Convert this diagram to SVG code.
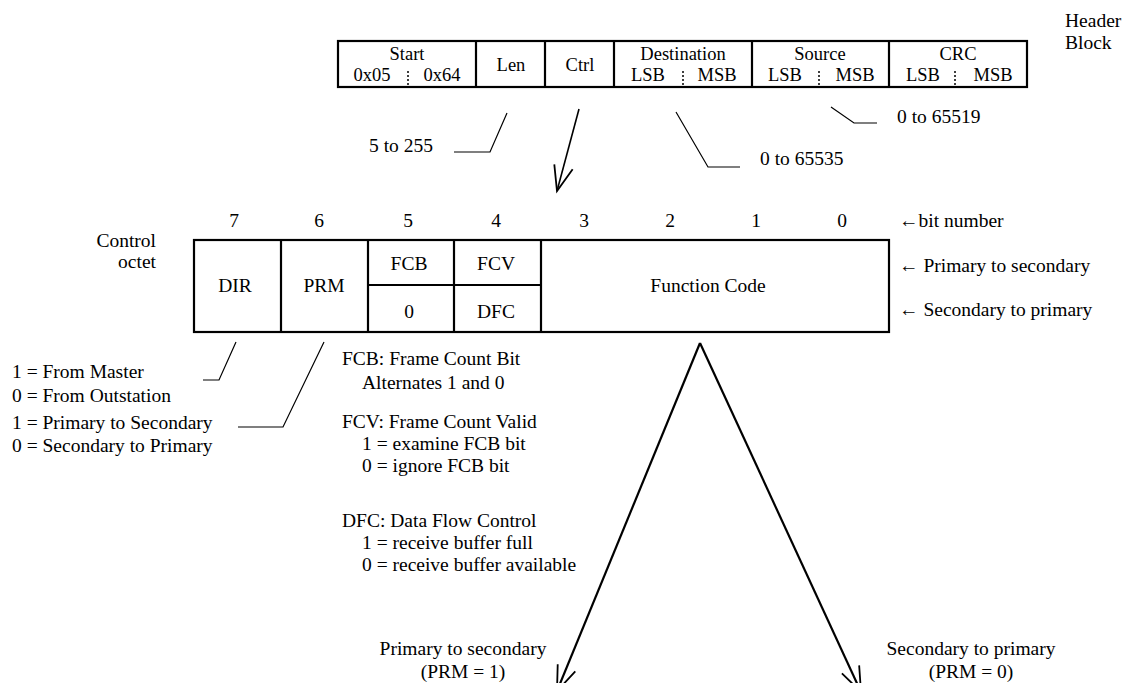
<svg xmlns="http://www.w3.org/2000/svg" width="1130" height="683" viewBox="0 0 1130 683">
<style>
text{font-family:"Liberation Serif","Times New Roman",serif;font-size:19.5px;fill:#000}
.m{text-anchor:middle}
.e{text-anchor:end}
.h{font-size:18.5px}
.box{fill:#fff;stroke:#000;stroke-width:2.2}
.div{stroke:#000;stroke-width:2.2;fill:none}
.dot{stroke:#000;stroke-width:1.5;stroke-dasharray:2 2}
.lead{stroke:#000;stroke-width:1.2;fill:none}
.arr{stroke:#000;stroke-width:1.6;fill:none}
.big{stroke:#000;stroke-width:2.2;fill:none}
</style>
<defs>
<marker id="v" markerUnits="userSpaceOnUse" markerWidth="40" markerHeight="30" refX="0" refY="0" viewBox="-30 -15 40 30" orient="auto" overflow="visible">
<path d="M-25,-9.5 L0,0 L-25,9.5" fill="none" stroke="#000" stroke-width="1.8"/>
</marker>
</defs>

<g id="header-block">
<rect class="box" x="338" y="41" width="689" height="46"/>
<path class="div" d="M476,41V87M545,41V87M614,41V87M752,41V87M889,41V87"/>
<path class="dot" d="M408,71V87M683,71V87M819,71V87M955,71V87"/>
<text class="m h" x="407" y="60">Start</text>
<text class="m h" x="372" y="81">0x05</text>
<text class="m h" x="442" y="81">0x64</text>
<text class="m h" x="511" y="71">Len</text>
<text class="m h" x="580" y="71">Ctrl</text>
<text class="m h" x="683" y="60">Destination</text>
<text class="m h" x="648" y="81">LSB</text>
<text class="m h" x="717" y="81">MSB</text>
<text class="m h" x="820" y="60">Source</text>
<text class="m h" x="785" y="81">LSB</text>
<text class="m h" x="855" y="81">MSB</text>
<text class="m h" x="958" y="60">CRC</text>
<text class="m h" x="923" y="81">LSB</text>
<text class="m h" x="993" y="81">MSB</text>
</g>

<g id="header-label">
<text x="1065" y="27">Header</text>
<text x="1065" y="49">Block</text>
</g>

<g id="header-notes">
<text x="369" y="152">5 to 255</text>
<text x="760" y="165">0 to 65535</text>
<text x="897" y="123">0 to 65519</text>
</g>

<g id="control-octet">
<text class="e" x="156" y="247">Control</text>
<text class="e" x="156" y="268">octet</text>
<text class="m" x="234" y="227">7</text>
<text class="m" x="319" y="227">6</text>
<text class="m" x="408" y="227">5</text>
<text class="m" x="496" y="227">4</text>
<text class="m" x="584" y="227">3</text>
<text class="m" x="670" y="227">2</text>
<text class="m" x="756" y="227">1</text>
<text class="m" x="842" y="227">0</text>
<rect class="box" x="194" y="240" width="695" height="92"/>
<path class="div" d="M281,240V332M368,240V332M454,240V332M541,240V332M368,285H541"/>
<text class="m" x="235" y="292">DIR</text>
<text class="m" x="324" y="292">PRM</text>
<text class="m" x="409" y="270">FCB</text>
<text class="m" x="496" y="270">FCV</text>
<text class="m" x="409" y="318">0</text>
<text class="m" x="496" y="318">DFC</text>
<text class="m" x="708" y="292">Function Code</text>
<text x="899" y="227">←bit number</text>
<text x="899" y="272">← Primary to secondary</text>
<text x="899" y="316">← Secondary to primary</text>
</g>

<g id="dir-notes">
<text x="12" y="378">1 = From Master</text>
<text x="12" y="402">0 = From Outstation</text>
<text x="12" y="429">1 = Primary to Secondary</text>
<text x="12" y="452">0 = Secondary to Primary</text>
</g>

<g id="bit-notes">
<text x="342" y="365">FCB: Frame Count Bit</text>
<text x="362" y="389">Alternates 1 and 0</text>
<text x="342" y="428">FCV: Frame Count Valid</text>
<text x="362" y="450">1 = examine FCB bit</text>
<text x="362" y="472">0 = ignore FCB bit</text>
<text x="342" y="527">DFC: Data Flow Control</text>
<text x="362" y="549">1 = receive buffer full</text>
<text x="362" y="571">0 = receive buffer available</text>
</g>

<g id="direction-labels">
<text class="m" x="463" y="655">Primary to secondary</text>
<text class="m" x="463" y="678">(PRM = 1)</text>
<text class="m" x="971" y="655">Secondary to primary</text>
<text class="m" x="971" y="678">(PRM = 0)</text>
</g>

<g id="connectors">
<polyline class="lead" points="507,113 490,152 454,152"/>
<polyline class="lead" points="676,112 708,167 740,167"/>
<polyline class="lead" points="831,107 854,123 877,123"/>
<polyline class="lead" points="236,342 219,380 203,380"/>
<polyline class="lead" points="324,342 283,427 238,427"/>
<line class="arr" x1="579" y1="109" x2="557" y2="191" marker-end="url(#v)"/>
<line class="big" x1="700" y1="343" x2="557" y2="691" marker-end="url(#v)"/>
<line class="big" x1="700" y1="343" x2="861" y2="692" marker-end="url(#v)"/>
</g>
</svg>
